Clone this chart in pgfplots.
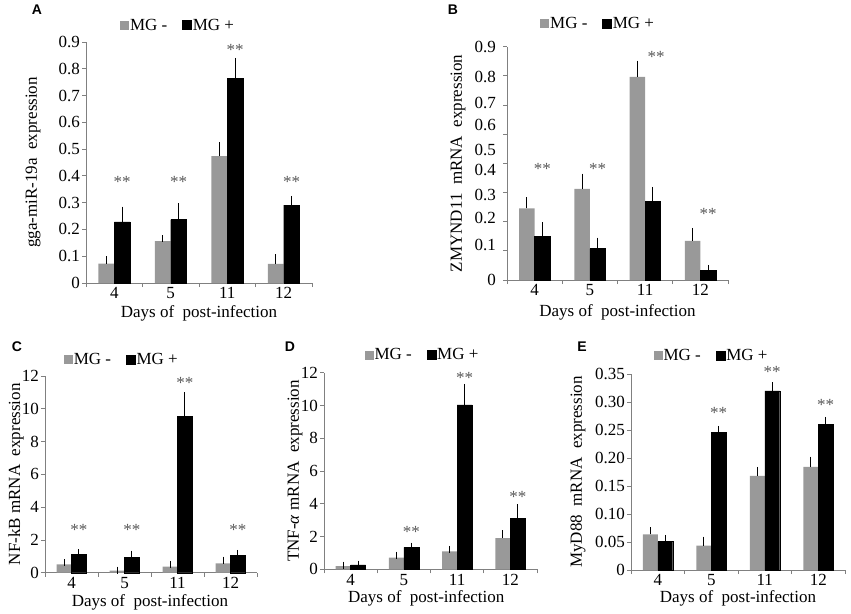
\documentclass[border=0pt]{standalone}
\usepackage{fontspec}
\setmainfont{Liberation Serif}
\setsansfont{Liberation Sans}
\usepackage{pgfplots}
\pgfplotsset{compat=1.18}
\definecolor{barg}{gray}{0.6}
\definecolor{axg}{gray}{0.5}
\definecolor{starc}{gray}{0.35}
\newcommand{\fs}{\rmfamily\fontsize{17}{20}\selectfont}
\pgfplotsset{
  panel/.style={
    scale only axis, anchor=south west,
    axis x line*=bottom, axis y line*=left,
    axis line style={axg, line width=0.8pt, -},
    tick style={axg, line width=0.8pt},
    tick align=outside, major tick length=4pt,
    xmin=-0.5, xmax=3.5,
    xtick={-0.5,0.5,1.5,2.5,3.5},
    x tick label as interval,
    xticklabels={4,5,11,12},
    ymin=0,
    ybar, bar width=0.28,
    /pgf/number format/assume math mode=true,
    tick label style={font=\fs, inner sep=2pt},
    xticklabel style={inner sep=0.5pt},
    label style={font=\fs},
    legend columns=2,
    legend style={draw=none, fill=none, font=\fs, anchor=center,
      /tikz/every even column/.append style={column sep=14pt},
      nodes={inner xsep=1pt, inner ysep=0pt, font=\fs}},
    error bars/y dir=plus, error bars/y explicit,
    error bars/error bar style={line width=1pt, black},
    error bars/error mark options={black, mark size=3.5pt, line width=1pt},
    clip=false,
  },
  gbar/.style={fill=barg, draw=none, bar shift=-0.14,
    legend image code/.code={\fill[barg] (0pt,-4.5pt) rectangle (9pt,4.5pt);}},
  kbar/.style={fill=black, draw=black, bar shift=0.14,
    legend image code/.code={\fill[black] (0pt,-4.5pt) rectangle (9pt,4.5pt);}},
}
\tikzset{stars/.style={starc, font=\fs, inner sep=0pt},
  plab/.style={font=\sffamily\bfseries\fontsize{14}{16}\selectfont}}
\begin{document}
\begin{tikzpicture}[font=\fs]
\path[use as bounding box] (0,0) rectangle (851pt,-613pt);
\node[plab] at (37pt,-10pt) {A};
\node[plab] at (453pt,-10pt) {B};
\node[plab] at (17pt,-347pt) {C};
\node[plab] at (290pt,-347pt) {D};
\node[plab] at (582pt,-347pt) {E};

% ---------- A ----------
\begin{axis}[panel, at={(86pt,-283pt)}, width=226pt, height=241pt, ymax=0.9,
  ytick={0,0.1,0.2,0.3,0.4,0.5,0.6,0.7,0.8,0.9},
  yticklabels={0,0.1,0.2,0.3,0.4,0.5,0.6,0.7,0.8,0.9},
  ylabel={gga-miR-19a~ expression}, xlabel={Days of~ post-infection},
  ylabel style={at={(axis description cs:-0.2345,0.5)}, anchor=center},
  xlabel style={at={(axis description cs:0.5,-0.125)}, anchor=center},
  legend style={at={(0.405,1.07)}}]
\addplot[gbar] coordinates {(0,0.072) +- (0,0.015) (1,0.156) +- (0,0.010) (2,0.474) +- (0,0.038) (3,0.071) +- (0,0.024)};
\addplot[kbar] coordinates {(0,0.228) +- (0,0.044) (1,0.237) +- (0,0.048) (2,0.765) +- (0,0.063) (3,0.291) +- (0,0.021)};
\legend{MG -, MG +}
\node[stars] at (axis cs:0.14,0.378) {**};
\node[stars] at (axis cs:1.14,0.378) {**};
\node[stars] at (axis cs:2.14,0.869) {**};
\node[stars] at (axis cs:3.14,0.378) {**};
\end{axis}

% ---------- B ----------
\begin{axis}[panel, at={(507pt,-280pt)}, width=221pt, height=233.3pt, ymax=0.9,
  ytick={0,0.1125,0.225,0.3375,0.45,0.5625,0.675,0.7875,0.9},
  yticklabels={},
  extra y ticks={0,0.135,0.239,0.328,0.424,0.501,0.598,0.683,0.784,0.9},
  extra y tick labels={0,0.1,0.2,0.3,0.4,0.5,0.6,0.7,0.8,0.9},
  extra y tick style={tick style={draw=none}, yticklabel style={xshift=-5pt}},
  ylabel={ZMYND11~ mRNA~ expression}, xlabel={Days of~ post-infection},
  ylabel style={at={(axis description cs:-0.222,0.5)}, anchor=center},
  xlabel style={at={(axis description cs:0.5,-0.14)}, anchor=center},
  legend style={at={(0.41,1.10)}}]
\addplot[gbar] coordinates {(0,0.276) +- (0,0.030) (1,0.352) +- (0,0.045) (2,0.784) +- (0,0.049) (3,0.151) +- (0,0.037)};
\addplot[kbar] coordinates {(0,0.168) +- (0,0.042) (1,0.121) +- (0,0.029) (2,0.303) +- (0,0.043) (3,0.036) +- (0,0.009)};
\legend{MG -, MG +}
\node[stars] at (axis cs:0.14,0.429) {**};
\node[stars] at (axis cs:1.14,0.429) {**};
\node[stars] at (axis cs:2.2,0.861) {**};
\node[stars] at (axis cs:3.14,0.255) {**};
\end{axis}

% ---------- C ----------
\begin{axis}[panel, at={(45pt,-572.7pt)}, width=212pt, height=196.7pt, ymax=12,
  ytick={0,2,4,6,8,10,12}, yticklabels={0,2,4,6,8,10,12},
  ylabel={NF-kB mRNA~ expression}, xlabel={Days of~ post-infection},
  ylabel style={at={(axis description cs:-0.137,0.5)}, anchor=center},
  xlabel style={at={(axis description cs:0.495,-0.15)}, anchor=center},
  legend style={at={(0.36,1.085)}}]
\addplot[gbar] coordinates {(0,0.51) +- (0,0.10) (1,0.12) +- (0,0.04) (2,0.37) +- (0,0.14) (3,0.57) +- (0,0.20)};
\addplot[kbar] coordinates {(0,1.14) +- (0,0.08) (1,0.94) +- (0,0.20) (2,9.56) +- (0,1.24) (3,1.08) +- (0,0.10)};
\legend{MG -, MG +}
\node[stars] at (axis cs:0.14,2.6) {**};
\node[stars] at (axis cs:1.14,2.6) {**};
\node[stars] at (axis cs:2.14,11.55) {**};
\node[stars] at (axis cs:3.14,2.6) {**};
\end{axis}

% ---------- D ----------
\begin{axis}[panel, at={(324pt,-569.3pt)}, width=213pt, height=196.6pt, ymax=12,
  ytick={0,2,4,6,8,10,12}, yticklabels={0,2,4,6,8,10,12},
  ylabel={TNF-\textit{α} mRNA~ expression}, xlabel={Days of~ post-infection},
  ylabel style={at={(axis description cs:-0.136,0.5)}, anchor=center},
  xlabel style={at={(axis description cs:0.48,-0.148)}, anchor=center},
  legend style={at={(0.46,1.09)}}]
\addplot[gbar] coordinates {(0,0.19) +- (0,0.07) (1,0.72) +- (0,0.14) (2,1.09) +- (0,0.13) (3,1.91) +- (0,0.27)};
\addplot[kbar] coordinates {(0,0.27) +- (0,0.04) (1,1.34) +- (0,0.08) (2,10.03) +- (0,1.07) (3,3.13) +- (0,0.62)};
\legend{MG -, MG +}
\node[stars] at (axis cs:1.14,2.26) {**};
\node[stars] at (axis cs:2.14,11.7) {**};
\node[stars] at (axis cs:3.14,4.43) {**};
\end{axis}

% ---------- E ----------
\begin{axis}[panel, at={(631pt,-570pt)}, width=214pt, height=196pt, ymax=0.35,
  ytick={0,0.05,0.1,0.15,0.2,0.25,0.3,0.35},
  yticklabels={0,0.05,0.10,0.15,0.20,0.25,0.30,0.35},
  ylabel={MyD88~ mRNA~ expression}, xlabel={Days of~ post-infection},
  ylabel style={at={(axis description cs:-0.248,0.5)}, anchor=center},
  xlabel style={at={(axis description cs:0.5,-0.145)}, anchor=center},
  legend style={at={(0.374,1.095)}}]
\addplot[gbar] coordinates {(0,0.0637) +- (0,0.0063) (1,0.0435) +- (0,0.010) (2,0.168) +- (0,0.010) (3,0.184) +- (0,0.012)};
\addplot[kbar] coordinates {(0,0.0506) +- (0,0.006) (1,0.246) +- (0,0.005) (2,0.320) +- (0,0.009) (3,0.260) +- (0,0.007)};
\legend{MG -, MG +}
\node[stars] at (axis cs:1.14,0.280) {**};
\node[stars] at (axis cs:2.14,0.354) {**};
\node[stars] at (axis cs:3.14,0.295) {**};
\end{axis}
\end{tikzpicture}
\end{document}
